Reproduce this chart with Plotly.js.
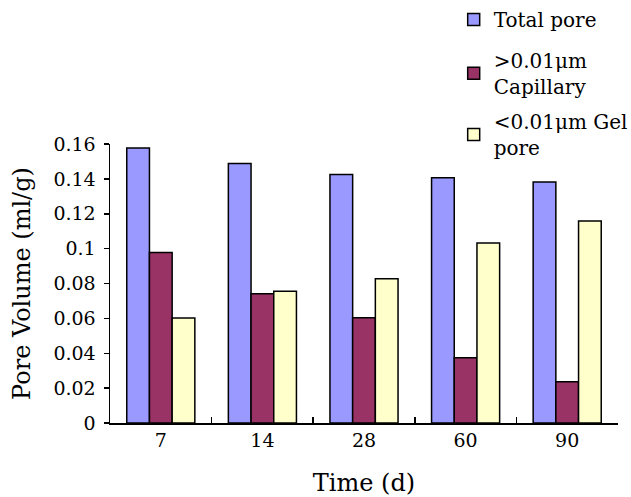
<!DOCTYPE html>
<html><head><meta charset="utf-8">
<script src="https://cdn.plot.ly/plotly-3.0.1.min.js"></script>
<style>html,body{margin:0;padding:0;background:#fff;}#chart{width:631px;height:497px;}</style>
</head><body><div id="chart"></div>
<script>
const categories = ['7', '14', '28', '60', '90'];
const totalPore = [0.1577, 0.1488, 0.1425, 0.1406, 0.1382];
const capillary = [0.0978, 0.0741, 0.0604, 0.0374, 0.0237];
const gelPore = [0.0602, 0.0756, 0.0827, 0.1032, 0.1158];
const seriesNames = ['Total pore', '&gt;0.01μm<br>Capillary', '&lt;0.01μm Gel<br>pore'];
const yTicks = [0, 0.02, 0.04, 0.06, 0.08, 0.1, 0.12, 0.14, 0.16];

const FONT = 'DejaVu Serif, Liberation Serif, serif';
const colors = ['#9999FF', '#993366', '#FFFFCC'];
const legendIds = ['legend', 'legend2', 'legend3'];
const legendTops = [1.0, 0.918, 0.795];
const dataSets = [totalPore, capillary, gelPore];
const traces = dataSets.map((vals, i) => ({
  type: 'bar', x: categories, y: vals, name: seriesNames[i], legend: legendIds[i],
  marker: {color: colors[i], line: {color: '#000', width: 1.5}}
}));

const mkLegend = (top) => ({
  xref: 'container', yref: 'container', x: 0.719, xanchor: 'left', y: top, yanchor: 'top',
  font: {family: FONT, size: 20, color: '#000'}, bgcolor: 'rgba(0,0,0,0)'
});

const layout = {
  width: 631, height: 497,
  margin: {l: 110, r: 13, t: 144, b: 74, autoexpand: false},
  paper_bgcolor: '#fff', plot_bgcolor: '#fff',
  font: {family: FONT, size: 19, color: '#000'},
  bargap: 0.33, bargroupgap: 0,
  showlegend: true,
  legend: mkLegend(legendTops[0]),
  legend2: mkLegend(legendTops[1]),
  legend3: mkLegend(legendTops[2]),
  xaxis: {type: 'category', showline: true, linecolor: '#000', linewidth: 1.5,
          ticks: 'inside', tickson: 'boundaries', ticklen: 6, tickcolor: '#000', tickwidth: 1.5,
          showgrid: false, zeroline: false,
          tickfont: {family: FONT, size: 19},
          title: {text: 'Time (d)', font: {family: FONT, size: 24}, standoff: 24}},
  yaxis: {range: [0, 0.16], tickvals: yTicks, ticktext: yTicks.map(v => String(v)),
          showline: true, linecolor: '#000', linewidth: 1.5,
          ticks: 'outside', ticklen: 5, tickcolor: '#000', tickwidth: 1.5,
          showgrid: false, zeroline: false, ticklabelstandoff: 4,
          tickfont: {family: FONT, size: 19},
          title: {text: 'Pore Volume (ml/g)', font: {family: FONT, size: 24}, standoff: 16}}
};
Plotly.newPlot('chart', traces, layout, {displayModeBar: false, staticPlot: true});
</script></body></html>
